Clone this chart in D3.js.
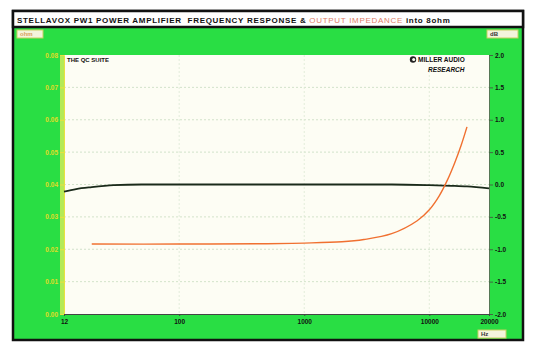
<!DOCTYPE html>
<html>
<head>
<meta charset="utf-8">
<script src="https://cdn.jsdelivr.net/npm/d3@7"></script>
<style>
  body { margin: 0; background: #fff; }
  text { font-family: "Liberation Sans", Arial, sans-serif; font-weight: bold; }
</style>
</head>
<body>
<script>
// frequency response (dB, right axis)
var respFreq = [12, 15, 20, 30, 50, 100, 1000, 5000, 10000, 15000, 20000, 30000];
var respDb = [-0.11, -0.07, -0.04, -0.01, 0, 0, 0, 0, -0.01, -0.02, -0.03, -0.06];

// output impedance (ohm, left axis)
var impFreq = [20, 100, 500, 1000, 2000, 3000, 5000, 8000, 10000, 12000, 14000, 16000, 18000, 20000];
var impOhm = [0.0216, 0.0216, 0.0217, 0.0219, 0.0223, 0.023, 0.0248, 0.0288, 0.0322, 0.0365, 0.0415, 0.0468, 0.0522, 0.0578];

var ohmTicks = [0, 0.01, 0.02, 0.03, 0.04, 0.05, 0.06, 0.07, 0.08];
var dbTicks = [2, 1.5, 1, 0.5, 0, -0.5, -1, -1.5, -2];
var dbLabels = ["2.0", "1.5", "1.0", "0.5", "0.0", "-0.5", "-1.0", "-1.5", "-2.0"];
var hzTicks = [12, 100, 1000, 10000, 30000];
var hzLabels = ["12", "100", "1000", "10000", "20000"];

var width = 536, height = 351;
var green = "#29de44";

var svg = d3.select("body").append("svg")
    .attr("width", width)
    .attr("height", height);

// frame
svg.append("rect")
    .attr("x", 13).attr("y", 11)
    .attr("width", 510).attr("height", 329)
    .attr("fill", green)
    .attr("stroke", "#111").attr("stroke-width", 2.5);

svg.append("rect")
    .attr("x", 13).attr("y", 11)
    .attr("width", 510).attr("height", 16)
    .attr("fill", "#fff")
    .attr("stroke", "#111").attr("stroke-width", 2.5);

var title = svg.append("text")
    .attr("x", 17).attr("y", 22.5)
    .attr("font-size", 8)
    .attr("letter-spacing", 0.7)
    .attr("xml:space", "preserve");
title.append("tspan").attr("fill", "#111").text("STELLAVOX PW1 POWER AMPLIFIER  FREQUENCY RESPONSE & ");
title.append("tspan").attr("fill", "#e0806a").attr("font-weight", "normal").text("OUTPUT IMPEDANCE");
title.append("tspan").attr("fill", "#111").text(" into 8ohm");

// unit boxes
function unitBox(x, y, w, label, col) {
  svg.append("rect").attr("x", x).attr("y", y).attr("width", w).attr("height", 8)
      .attr("fill", "#f4f4dc").attr("stroke", "#c8d060").attr("stroke-width", 1);
  svg.append("text").attr("x", x + 3).attr("y", y + 6.3)
      .attr("font-size", 6).attr("font-weight", "normal").attr("fill", col).text(label);
}
unitBox(17, 30, 26, "ohm", "#d8a060");
unitBox(487, 30, 31, "dB", "#333");
unitBox(478, 330, 28, "Hz", "#333");

// plot area
var margin = {top: 55, left: 64, right: 47, bottom: 37};
var pw = width - margin.left - margin.right,
    ph = height - margin.top - margin.bottom;

var g = svg.append("g")
    .attr("transform", "translate(" + margin.left + "," + margin.top + ")");

var x = d3.scaleLog().domain([12, 30000]).range([0, pw]);
var yOhm = d3.scaleLinear().domain([0, 0.08]).range([ph, 0]);
var yDb = d3.scaleLinear().domain([-2, 2]).range([ph, 0]);

g.append("rect").attr("x", -4).attr("y", 0).attr("width", 6).attr("height", ph)
    .attr("fill", "#f0f060").attr("opacity", 0.7);
g.append("rect").attr("width", pw).attr("height", ph)
    .attr("fill", "#fdfdf4");

// grid
g.append("g").selectAll("line")
    .data(ohmTicks.slice(1, -1))
  .enter().append("line")
    .attr("x1", 0).attr("x2", pw)
    .attr("y1", function(d) { return yOhm(d); })
    .attr("y2", function(d) { return yOhm(d); })
    .attr("stroke", "#c8dcc0").attr("stroke-width", 0.8)
    .attr("stroke-dasharray", "2,2");

g.append("g").selectAll("line")
    .data([100, 1000, 10000])
  .enter().append("line")
    .attr("x1", function(d) { return x(d); })
    .attr("x2", function(d) { return x(d); })
    .attr("y1", 0).attr("y2", ph)
    .attr("stroke", "#dde8d4").attr("stroke-width", 0.8)
    .attr("stroke-dasharray", "2,2");

// axes
var leftAxis = g.append("g")
    .call(d3.axisLeft(yOhm).tickValues(ohmTicks).tickFormat(d3.format(".2f")).tickSize(4).tickPadding(2));
leftAxis.select(".domain").attr("stroke", "#e8e040");
leftAxis.selectAll(".tick line").attr("stroke", "#e8e040");
leftAxis.selectAll("text").attr("fill", "#e0dc28").attr("font-size", 6.5)
    .attr("font-family", "Liberation Sans, Arial, sans-serif").attr("font-weight", "bold");

var rightAxis = g.append("g")
    .attr("transform", "translate(" + pw + ",0)")
    .call(d3.axisRight(yDb).tickValues(dbTicks).tickFormat(function(d, i) { return dbLabels[i]; }).tickSize(4).tickPadding(2));
rightAxis.select(".domain").attr("stroke", "#557755");
rightAxis.selectAll(".tick line").attr("stroke", "#446644");
rightAxis.selectAll("text").attr("fill", "#111").attr("font-size", 6.5)
    .attr("font-family", "Liberation Sans, Arial, sans-serif").attr("font-weight", "bold");

var bottomAxis = g.append("g")
    .attr("transform", "translate(0," + ph + ")")
    .call(d3.axisBottom(x).tickValues(hzTicks).tickFormat(function(d, i) { return hzLabels[i]; }).tickSize(2).tickPadding(3));
bottomAxis.select(".domain").attr("stroke", "#444");
bottomAxis.selectAll(".tick line").attr("stroke", "#444");
bottomAxis.selectAll("text").attr("fill", "#111").attr("font-size", 6.5)
    .attr("font-family", "Liberation Sans, Arial, sans-serif").attr("font-weight", "bold");

// curves
var respLine = d3.line()
    .x(function(d) { return x(d[0]); })
    .y(function(d) { return yDb(d[1]); })
    .curve(d3.curveMonotoneX);

g.append("path")
    .datum(d3.zip(respFreq, respDb))
    .attr("d", respLine)
    .attr("fill", "none")
    .attr("stroke", "#1a2a1a").attr("stroke-width", 1.8);

var impLine = d3.line()
    .x(function(d) { return x(d[0]); })
    .y(function(d) { return yOhm(d[1]); })
    .curve(d3.curveCatmullRom);

g.append("path")
    .datum(d3.zip(impFreq, impOhm))
    .attr("d", impLine)
    .attr("fill", "none")
    .attr("stroke", "#f07030").attr("stroke-width", 1.4);

// labels inside plot
g.append("text").attr("x", 3).attr("y", 7)
    .attr("font-size", 6).attr("fill", "#111").text("THE QC SUITE");

g.append("circle").attr("cx", pw - 76).attr("cy", 4.5).attr("r", 3.2)
    .attr("fill", "#222");
g.append("circle").attr("cx", pw - 75.3).attr("cy", 4.5).attr("r", 1.5)
    .attr("fill", "#fdfdf4");
g.append("text").attr("x", pw - 71).attr("y", 7)
    .attr("font-size", 6.5).attr("fill", "#111").text("MILLER AUDIO");
g.append("text").attr("x", pw - 61).attr("y", 17)
    .attr("font-size", 6.5).attr("font-style", "italic").attr("fill", "#111").text("RESEARCH");
</script>
</body>
</html>
